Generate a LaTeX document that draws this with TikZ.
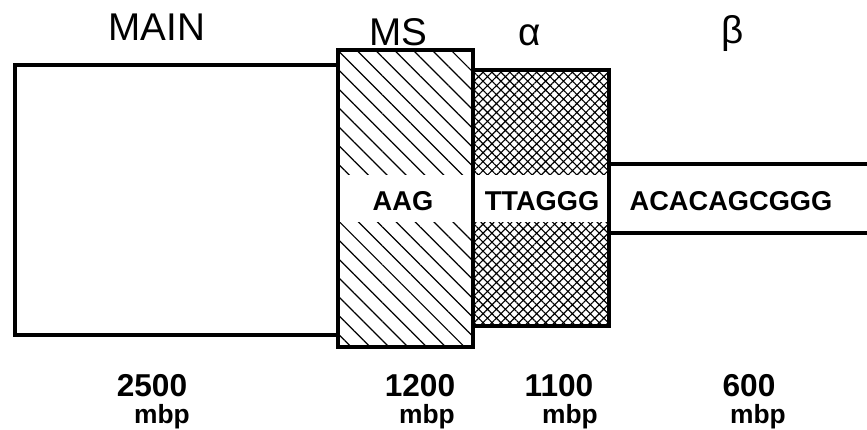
\documentclass[tikz,border=0pt]{standalone}
\usepackage{fontspec}
\setmainfont{Liberation Sans}
\usetikzlibrary{patterns.meta}

\tikzset{
  boite/.style={line width=2.2pt, line join=miter},
  titre/.style={font=\fontsize{22}{26}\selectfont, inner sep=0pt, anchor=base},
  seq/.style={font=\bfseries\fontsize{15.5}{18}\selectfont, inner sep=0pt},
  taille/.style={font=\bfseries\fontsize{18}{21}\selectfont, inner sep=0pt},
  unite/.style={font=\bfseries\fontsize{15}{18}\selectfont, inner sep=0pt, anchor=base},
}

\begin{document}
\begin{tikzpicture}[x=0.02cm, y=-0.02cm]
    \useasboundingbox (0,0) rectangle (867,430);

    % Coins des blocs
    \coordinate (M1) at (15,65);     % MAIN haut gauche
    \coordinate (M2) at (338,335);   % MAIN bas droite
    \coordinate (S1) at (338,50);    % MS haut gauche
    \coordinate (S2) at (473,347);   % MS bas droite
    \coordinate (A1) at (473,70);    % alpha haut gauche
    \coordinate (A2) at (609,326);   % alpha bas droite
    \coordinate (B1) at (609,164);   % beta haut gauche
    \coordinate (B2) at (867,233);   % beta bas droite

    % Bloc MAIN
    \draw[line width=1.9pt] (M1) rectangle (M2);

    % Bande beta (ouverte a droite)
    \draw[line width=1.8pt] (B1) -- (B1 -| B2);
    \draw[line width=1.8pt] (B1 |- B2) -- (B2);

    % Bloc MS : hachures simples
    \fill[pattern={Lines[angle=-45, distance=7.6pt, line width=0.7pt]}] (S1) rectangle (S2);
    \fill[white] (339,175) rectangle (472,222);
    \draw[boite] (S1) rectangle (S2);

    % Bloc alpha : hachures croisees
    \fill[pattern={Hatch[angle=45, distance=3.6pt, line width=0.65pt]}] (A1) rectangle (A2);
    \fill[white] (474,175) rectangle (608,222);
    \draw[boite] (A1) rectangle (A2);

    % Titres
    \node[titre] (main)  at (157,40) {MAIN};
    \node[titre] (ms)    at (398,45) {MS};
    \node[titre] (alpha) at (530,45) {α};
    \node[titre] (beta)  at (733,43) {β};

    % Sequences
    \node[seq] (aag)    at (403,201) {AAG};
    \node[seq] (ttaggg) at (542,201) {TTAGGG};
    \node[seq] (acac)   at (731,201) {ACACAGCGGG};

    % Tailles
    \node[taille] (t1) at (152,386) {2500};
    \node[taille] (t2) at (420,386) {1200};
    \node[taille] (t3) at (559,386) {1100};
    \node[taille] (t4) at (749,386) {600};
    \node[unite] (u1) at (162,423) {mbp};
    \node[unite] (u2) at (427,423) {mbp};
    \node[unite] (u3) at (570,423) {mbp};
    \node[unite] (u4) at (758,423) {mbp};

\end{tikzpicture}
\end{document}
